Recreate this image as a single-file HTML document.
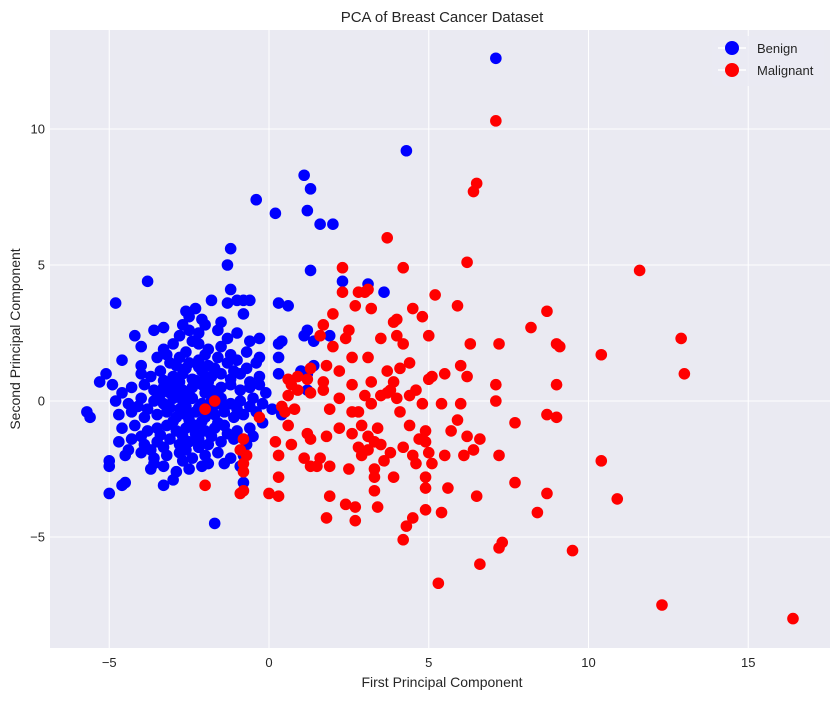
<!DOCTYPE html>
<html><head><meta charset="utf-8"><style>
body{margin:0;background:#fff;}
svg text{font-family:"Liberation Sans",sans-serif;}
</style></head><body>
<svg id="chart" width="840" height="699" xmlns="http://www.w3.org/2000/svg">
<rect x="50" y="30" width="780" height="618" fill="#eaeaf2"/>
<g id="grid"></g>
<g id="ticks"></g>
<g id="benign"></g>
<g id="malignant"></g>
<text x="442" y="22" text-anchor="middle" font-size="15" fill="#262626">PCA of Breast Cancer Dataset</text>
<text x="442" y="687" text-anchor="middle" font-size="14" fill="#262626">First Principal Component</text>
<text x="20" y="339" text-anchor="middle" font-size="14" fill="#262626" transform="rotate(-90 20 339)">Second Principal Component</text>
<g>
<rect x="712" y="36" width="112" height="50" rx="3" fill="#eaeaf2" opacity="0.8"/>
<g>
<line x1="718" y1="48" x2="746" y2="48" stroke="#fff" stroke-width="1.5"/>
<circle cx="732" cy="48" r="7" fill="#0000ff"/>
<text x="757" y="53" font-size="13" fill="#262626">Benign</text></g>
<g>
<line x1="718" y1="70" x2="746" y2="70" stroke="#fff" stroke-width="1.5"/>
<circle cx="732" cy="70" r="7" fill="#ff0000"/>
<text x="757" y="75" font-size="13" fill="#262626">Malignant</text></g>
</g>
</svg>
<script>
const xTicks=[-5,0,5,10,15];
const yTicks=[-5,0,5,10];
const benign=[[7.1,12.6],[4.3,9.2],[1.1,8.3],[1.3,7.8],[1.2,7.0],[-0.4,7.4],[0.2,6.9],[1.6,6.5],[2.0,6.5],[-1.2,5.6],[-1.3,5.0],[1.3,4.8],[2.3,4.4],[3.1,4.3],[3.6,4.0],[-3.8,4.4],[-1.2,4.1],[-1.3,3.6],[-0.6,3.7],[-0.8,3.7],[-0.8,3.2],[0.3,3.6],[0.6,3.5],[-4.8,3.6],[1.1,2.4],[1.2,2.6],[1.9,2.4],[1.4,2.2],[1.4,1.3],[1.2,1.0],[1.0,1.1],[1.2,0.4],[0.3,1.6],[0.3,1.0],[0.4,2.2],[-5.3,0.7],[-5.1,1.0],[-5.7,-0.4],[-5.6,-0.6],[-5.0,-2.2],[-5.0,-2.4],[-5.0,-3.4],[-4.6,-3.1],[-4.5,-3.0],[-3.3,-3.1],[-1.7,-4.5],[-0.8,-3.0],[0.1,-0.3],[0.4,-0.5],[-0.1,0.3],[-4.9,0.6],
[-2.5,3.1],[-2.3,3.4],[-2.1,3.0],[-2.7,2.8],[-2.6,3.3],[-1.8,3.7],[-1.0,3.7],[-0.6,2.2],[-0.3,2.3],
[-3.6,2.6],[-3.3,2.7],[-2.8,2.4],[-2.5,2.6],[-2.2,2.5],[-1.6,2.6],[-1.0,2.5],[-4.2,2.4],[-1.5,2.9],
[-4.0,2.0],[-3.3,1.9],[-3.0,2.1],[-2.6,1.8],[-2.2,2.1],[-1.9,1.9],[-1.5,2.0],[-1.2,1.7],[-0.7,1.8],[-0.4,1.4],[0.3,2.1],
[-4.6,1.5],[-4.0,1.3],[-3.5,1.6],[-3.1,1.4],[-2.8,1.6],[-2.5,1.4],[-2.2,1.5],[-1.9,1.3],[-1.6,1.6],[-1.3,1.4],[-1.0,1.5],[-0.7,1.2],[-0.3,1.6],
[-4.0,1.0],[-3.7,0.9],[-3.4,1.1],[-3.0,0.9],[-2.7,1.0],[-2.4,0.8],[-2.1,1.1],[-1.8,0.9],[-1.5,1.0],[-1.2,0.8],[-0.9,1.0],[-0.6,0.7],[-0.3,0.9],
[-4.3,0.5],[-3.9,0.6],[-3.6,0.4],[-3.3,0.5],[-3.0,0.6],[-2.7,0.4],[-2.4,0.5],[-2.1,0.6],[-1.8,0.4],[-1.5,0.5],[-1.2,0.6],[-0.9,0.4],[-0.6,0.5],[-4.6,0.3],
[-4.8,0.0],[-4.4,-0.1],[-4.0,0.1],[-3.6,0.0],[-3.3,-0.1],[-3.0,0.1],[-2.7,0.0],[-2.4,0.1],[-2.1,-0.1],[-1.8,0.0],[-1.5,0.1],[-1.2,-0.1],[-0.9,0.0],[-0.5,0.1],[-0.2,-0.1],
[-4.7,-0.5],[-4.3,-0.4],[-3.9,-0.6],[-3.5,-0.5],[-3.2,-0.4],[-2.9,-0.6],[-2.6,-0.5],[-2.3,-0.4],[-2.0,-0.6],[-1.7,-0.5],[-1.4,-0.4],[-1.1,-0.6],[-0.8,-0.5],[-0.4,-0.4],
[-4.6,-1.0],[-4.2,-0.9],[-3.8,-1.1],[-3.5,-1.0],[-3.2,-0.9],[-2.9,-1.1],[-2.6,-1.0],[-2.3,-0.9],[-2.0,-1.1],[-1.7,-1.0],[-1.4,-0.9],[-1.0,-1.1],[-0.6,-1.0],
[-4.7,-1.5],[-4.3,-1.4],[-3.9,-1.6],[-3.5,-1.5],[-3.1,-1.4],[-2.8,-1.6],[-2.5,-1.5],[-2.2,-1.4],[-1.9,-1.6],[-1.5,-1.5],[-1.1,-1.4],[-0.7,-1.6],
[-4.5,-2.0],[-4.0,-1.9],[-3.6,-2.1],[-3.2,-2.0],[-2.8,-1.9],[-2.4,-2.1],[-2.0,-2.0],[-1.6,-1.9],[-1.2,-2.1],[-0.8,-2.0],
[-3.7,-2.5],[-3.3,-2.4],[-2.9,-2.6],[-2.5,-2.5],[-2.1,-2.4],[-3.0,-2.9],[-1.4,-2.3],
[-3.4,0.25],[-2.9,0.3],[-2.5,0.25],[-2.0,0.3],[-1.6,0.25],[-3.1,-0.25],[-2.6,-0.2],[-2.2,-0.25],[-1.8,-0.3],[-1.4,-0.2],[-3.3,0.75],[-2.8,0.7],[-2.3,0.75],[-1.9,0.7],[-3.0,-0.75],[-2.5,-0.7],[-2.1,-0.75],[-1.6,-0.8],[-3.4,-1.25],[-2.7,-1.3],[-2.3,-1.2],[-4.4,-1.8],[-0.9,-2.4],[-0.3,0.6],[-0.2,-0.8],[-4.1,-0.2],[-3.7,-1.8],[-1.3,2.3],[-2.0,2.8],[-0.5,-1.3],
[-2.6,1.2],[-2.2,1.25],[-1.7,1.2],[-2.9,1.3],[-3.2,1.7],[-2.4,2.2],[-2.0,1.7],[-1.1,1.1],[-3.8,-0.3],[-4.0,-1.3],[-3.3,-1.7],[-2.6,-1.8],[-2.2,-1.7],[-1.8,-1.3],[-1.3,-1.2],[-1.0,-0.3],[-0.6,-0.2],[-3.6,-2.3],[-2.7,-2.2],[-1.9,-2.3],[-2.0,0.9],[-1.6,-0.1],[-2.8,-0.3],[-3.1,0.3]];
const malignant=[[16.4,-8.0],[12.3,-7.5],[5.3,-6.7],[6.6,-6.0],[9.5,-5.5],[7.3,-5.2],[7.2,-5.4],[4.2,-5.1],[4.3,-4.6],[4.5,-4.3],[5.4,-4.1],[4.9,-4.0],[8.4,-4.1],[10.9,-3.6],[8.7,-3.4],[7.7,-3.0],[10.4,-2.2],[7.2,-2.0],[13.0,1.0],[12.9,2.3],[10.4,1.7],[9.1,2.0],[9.0,2.1],[8.7,3.3],[8.2,2.7],[11.6,4.8],[9.0,0.6],[8.7,-0.5],[9.0,-0.6],[7.7,-0.8],[7.1,0.0],[7.1,0.6],[7.2,2.1],[7.1,10.3],[6.5,8.0],[6.4,7.7],[6.2,5.1],[3.7,6.0],[4.2,4.9],[5.2,3.9],[5.9,3.5],[4.5,3.4],[4.8,3.1],[5.0,2.4],[6.3,2.1],[6.0,1.3],[6.2,0.9],[5.5,1.0],[5.0,0.8],[6.0,-0.1],[5.4,-0.1],[6.2,-1.3],[6.4,-1.8],[6.1,-2.0],[6.5,-3.5],[5.9,-0.7],[5.7,-1.1],[6.6,-1.4],[2.3,4.9],[3.1,4.1],[2.8,4.0],[2.3,4.0],[2.7,3.5],[3.2,3.4],[3.9,2.9],[4.0,2.4],[3.5,2.3],[2.5,2.6],[2.4,2.3],[1.7,2.8],[1.6,2.4],[2.0,2.0],[1.8,1.3],[2.6,1.6],[3.1,1.6],[3.7,1.1],[3.9,0.7],[4.1,1.2],[4.4,1.4],[4.6,0.4],[4.8,-0.1],[4.4,-0.9],[4.9,-1.1],[4.9,-1.5],[5.0,-1.9],[5.1,-2.3],[4.6,-2.3],[4.9,-2.8],[4.9,-3.2],[3.9,-2.8],[3.3,-3.3],[3.4,-3.9],[3.1,-1.8],[3.4,-1.0],[3.5,-1.6],[3.8,-1.9],[2.6,-1.2],[2.2,-1.0],[2.6,-0.4],[2.8,-0.4],[2.6,0.6],[2.2,0.1],[1.7,0.4],[1.7,0.7],[2.2,1.1],[1.2,0.8],[1.3,0.3],[0.9,0.9],[0.7,0.6],[0.6,0.2],[0.4,-0.2],[0.7,-1.6],[1.2,-1.2],[1.3,-1.4],[1.1,-2.1],[1.3,-2.4],[1.6,-2.1],[1.9,-2.4],[1.9,-3.5],[2.4,-3.8],[2.7,-3.9],[2.7,-4.4],[1.8,-4.3],[2.5,-2.5],[2.9,-2.0],[1.5,-2.4],[0.3,-2.8],[0.3,-3.5],[0.0,-3.4],[0.3,-2.0],[-0.8,-3.3],[-0.9,-3.4],[-0.8,-2.6],[-0.8,-2.3],[-0.7,-2.0],[-0.9,-1.8],[-0.8,-1.4],[-2.0,-3.1],[-2.0,-0.3],[-1.7,0.0],[-0.3,-0.6],[0.2,-1.5],[0.6,-0.9],[0.8,-0.3],[1.3,1.2],[1.9,-0.3],[1.8,-1.3],[3.2,-0.1],[3.1,-1.3],[3.3,-1.5],[3.5,0.2],[3.8,0.4],[4.1,-0.4],[4.7,-1.4],[4.2,-1.7],[4.5,-2.0],[3.3,-2.5],[3.3,-2.8],[2.9,-0.9],[3.6,-2.2],[4.0,3.0],[3.0,4.0],[2.0,3.2],[3.2,0.7],[3.0,0.2],[2.8,-1.7],[4.2,2.1],[4.0,0.1],[3.7,0.3],[4.4,0.2],[5.1,0.9],[5.5,-2.0],[5.6,-3.2],[0.6,0.8],[0.9,0.4],[0.5,-0.4]];
const NS='http://www.w3.org/2000/svg';
function sx(v){return 269+v*31.95;}
function sy(v){return 401-v*27.2;}
const grid=document.getElementById('grid'),ticks=document.getElementById('ticks');
xTicks.forEach(t=>{
 const l=document.createElementNS(NS,'line');
 l.setAttribute('x1',sx(t));l.setAttribute('x2',sx(t));l.setAttribute('y1',30);l.setAttribute('y2',648);
 l.setAttribute('stroke','#fff');l.setAttribute('stroke-width','1');
 
 
 grid.appendChild(l);
 const tx=document.createElementNS(NS,'text');
 tx.setAttribute('x',sx(t));tx.setAttribute('y',667);tx.setAttribute('text-anchor','middle');
 tx.setAttribute('font-size','13');tx.setAttribute('fill','#262626');
 tx.textContent=t<0?'\u2212'+(-t):String(t);
 
 
 ticks.appendChild(tx);
});
yTicks.forEach(t=>{
 const l=document.createElementNS(NS,'line');
 l.setAttribute('x1',50);l.setAttribute('x2',830);l.setAttribute('y1',sy(t));l.setAttribute('y2',sy(t));
 l.setAttribute('stroke','#fff');l.setAttribute('stroke-width','1');
 
 
 grid.appendChild(l);
 const tx=document.createElementNS(NS,'text');
 tx.setAttribute('x',45);tx.setAttribute('y',sy(t)+4.5);tx.setAttribute('text-anchor','end');
 tx.setAttribute('font-size','13');tx.setAttribute('fill','#262626');
 tx.textContent=t<0?'\u2212'+(-t):String(t);
 
 
 ticks.appendChild(tx);
});
function draw(data,gid,color,name){
 const g=document.getElementById(gid);
 data.forEach(p=>{
  const c=document.createElementNS(NS,'circle');
  c.setAttribute('cx',sx(p[0]));c.setAttribute('cy',sy(p[1]));c.setAttribute('r',5.8);
  c.setAttribute('fill',color);
  
  
  g.appendChild(c);
 });
}
draw(benign,'benign','#0000ff','benign-point');
draw(malignant,'malignant','#ff0000','malignant-point');
</script>
</body></html>
